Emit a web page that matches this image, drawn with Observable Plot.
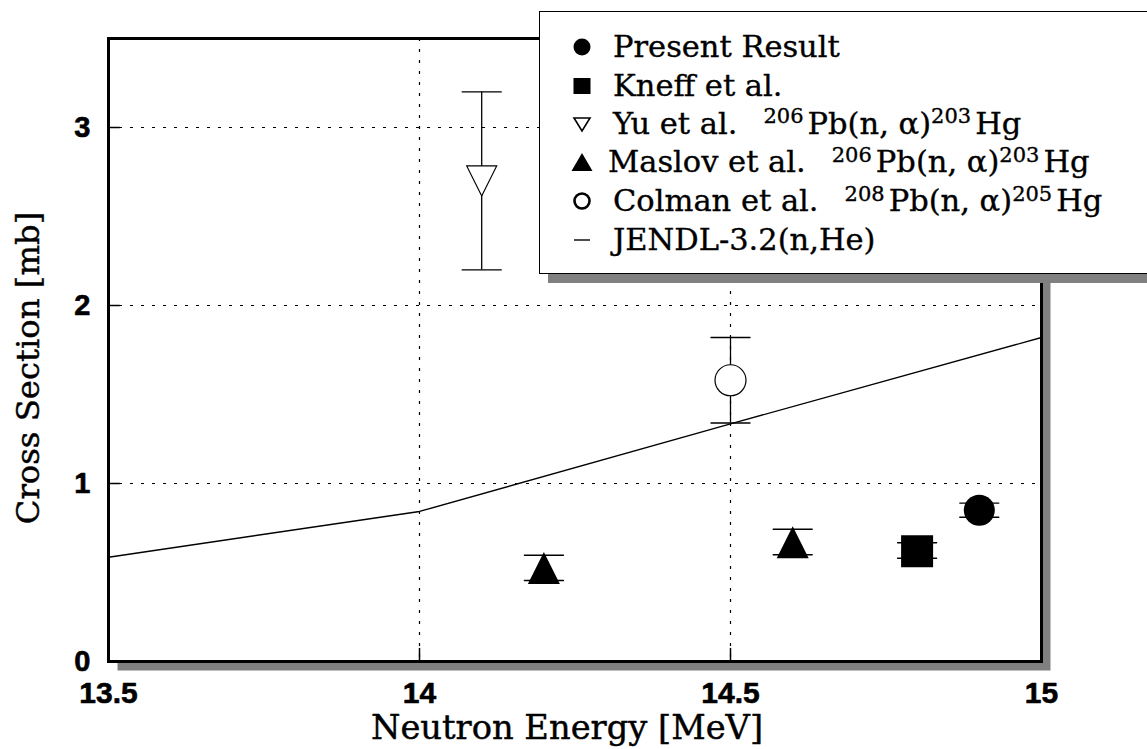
<!DOCTYPE html>
<html><head><meta charset="utf-8">
<script src="https://cdn.jsdelivr.net/npm/d3@7"></script>
<script src="https://cdn.jsdelivr.net/npm/@observablehq/plot@0.6"></script>
<style>
html,body{margin:0;padding:0;background:#fff;overflow:hidden;width:1147px;height:749px;}
#wrap{position:relative;width:1147px;height:749px;}
#legend{position:absolute;left:539px;top:11px;width:660px;height:261px;border:1.5px solid #000;background:#fff;box-shadow:9px 9px 0 #808080;font-family:"DejaVu Serif",serif;font-size:30.5px;color:#000;-webkit-text-stroke:0.35px #000;}
.row{position:absolute;left:0;height:38px;line-height:38px;white-space:nowrap;}
.row svg{position:absolute;left:32px;top:9px;}
.row .txt{position:absolute;left:73px;top:0;}
.rx{margin-left:26px;}
.rx sup{font-size:21px;vertical-align:0.5em;line-height:0;margin-right:4px;}
</style>
</head><body><div id="wrap"><div id="legend"></div></div>
<script>
// ---------- data ----------
const xTicks = [13.5, 14, 14.5, 15];
const yTicks = [0, 1, 2, 3];
const xGrid = [14, 14.5];
const yGrid = [1, 2, 3];

const jendlEnergy = [13.5, 14, 14.5, 15];
const jendlXS = [0.586, 0.843, 1.335, 1.82];

const presentResult = [{e: 14.9, xs: 0.85, lo: 0.81, hi: 0.89}];
const kneff = [{e: 14.8, xs: 0.62, lo: 0.58, hi: 0.667}];
const yu = [{e: 14.1, xs: 2.7, lo: 2.2, hi: 3.2}];
const maslov = [{e: 14.2, xs: 0.525, lo: 0.455, hi: 0.597}, {e: 14.6, xs: 0.67, lo: 0.60, hi: 0.743}];
const colman = [{e: 14.5, xs: 1.58, lo: 1.34, hi: 1.82}];

const legendLabels = ["Present Result", "Kneff et al.", "Yu et al.", "Maslov et al.", "Colman et al.", "JENDL-3.2(n,He)"];
const legendReactions = [null, null, ["206", "Pb(n, α)", "203", "Hg"], ["206", "Pb(n, α)", "203", "Hg"], ["208", "Pb(n, α)", "205", "Hg"], null];
const legendSymbols = ["circle", "square", "triDown", "triUp", "ring", "line"];

const xLabel = "Neutron Energy [MeV]";
const yLabel = "Cross Section [mb]";

// ---------- shapes ----------
const mk = fn => ({draw(c, size) { fn(c, Math.sqrt(size / Math.PI)); }});
const triUp = mk((c, r) => { c.moveTo(0, -r); c.lineTo(r, r); c.lineTo(-r, r); c.closePath(); });
const triDown = mk((c, r) => { c.moveTo(-r, -r); c.lineTo(r, -r); c.lineTo(0, r); c.closePath(); });
const square = mk((c, r) => { c.rect(-r, -r, 2 * r, 2 * r); });
const tickShape = {draw(c, l) { c.moveTo(0, 0); c.lineTo(0, -l); }};
const capShape = {draw(c, l) { c.moveTo(-l / 2, 0); c.lineTo(l / 2, 0); }};

const jendl = jendlEnergy.map((e, i) => ({e, xs: jendlXS[i]}));
const allPoints = [...presentResult, ...kneff, ...yu, ...maslov, ...colman];

const grid = {stroke: "black", strokeWidth: 1.2, strokeDasharray: "3,8"};
const serif = {fontFamily: "DejaVu Serif", stroke: "black", strokeWidth: 0.45, fill: "black"};
const tickFont = {fontFamily: "Liberation Sans", fontWeight: "bold", fill: "black", stroke: "black", strokeWidth: 0.6};

const chart = Plot.plot({
  width: 1147, height: 749,
  marginLeft: 108, marginRight: 106, marginTop: 38, marginBottom: 88,
  x: {domain: [13.5, 15], axis: null},
  y: {domain: [0, 3.5], axis: null},
  style: {background: "white"},
  marks: [
    Plot.frame({fill: "#808080", dx: 9, dy: 9}),
    Plot.frame({fill: "white"}),
    Plot.ruleX(xGrid, grid),
    Plot.ruleY(yGrid, grid),
    Plot.vector(xGrid, {x: d => d, frameAnchor: "bottom", length: 13, anchor: "start", shape: tickShape, stroke: "black", strokeWidth: 1.5}),
    Plot.vector(yGrid, {y: d => d, frameAnchor: "left", rotate: 90, length: 11, anchor: "start", shape: tickShape, stroke: "black", strokeWidth: 1.5}),
    Plot.line(jendl, {x: "e", y: "xs", stroke: "black", strokeWidth: 1.4}),
    Plot.ruleX(allPoints, {x: "e", y1: "lo", y2: "hi", stroke: "black", strokeWidth: 1.3}),
    Plot.vector(allPoints, {x: "e", y: "lo", length: 39, anchor: "start", shape: capShape, stroke: "black", strokeWidth: 1.4}),
    Plot.vector(allPoints, {x: "e", y: "hi", length: 39, anchor: "start", shape: capShape, stroke: "black", strokeWidth: 1.4}),
    Plot.dot(presentResult, {x: "e", y: "xs", r: 15.5, symbol: "circle", fill: "black", stroke: null}),
    Plot.dot(kneff, {x: "e", y: "xs", r: 16, symbol: square, fill: "black", stroke: null}),
    Plot.dot(yu, {x: "e", y: "xs", r: 15, symbol: triDown, fill: "white", stroke: "black", strokeWidth: 1.2}),
    Plot.dot(maslov, {x: "e", y: "xs", r: 16, symbol: triUp, fill: "black", stroke: null}),
    Plot.dot(colman, {x: "e", y: "xs", r: 15.5, symbol: "circle", fill: "white", stroke: "black", strokeWidth: 1.2}),
    Plot.text(xTicks, {x: d => d, text: d => String(d), frameAnchor: "bottom", dy: 41, lineAnchor: "bottom", textAnchor: "middle", fontSize: 30, ...tickFont}),
    Plot.text(yTicks, {y: d => d, text: d => String(d), frameAnchor: "left", dx: -18, textAnchor: "end", lineAnchor: "middle", fontSize: 29, ...tickFont}),
    Plot.text([xLabel], {text: d => d, frameAnchor: "bottom", dx: -8, dy: 77, lineAnchor: "bottom", textAnchor: "middle", fontSize: 33.7, ...serif}),
    Plot.text([yLabel], {text: d => d, frameAnchor: "left", rotate: -90, dx: -80, dy: 18, textAnchor: "middle", fontSize: 32.3, ...serif}),
    Plot.frame({stroke: "black", strokeWidth: 3})
  ]
});
document.getElementById("wrap").prepend(chart);

// ---------- legend ----------
function symSvg(kind) {
  let inner = "";
  if (kind === "circle") inner = `<circle cx="10" cy="10" r="8.5" fill="black"/>`;
  if (kind === "square") inner = `<rect x="1.5" y="2" width="17" height="16" fill="black"/>`;
  if (kind === "triDown") inner = `<path d="M2,4 L18,4 L10,17 Z" fill="white" stroke="black" stroke-width="1.6"/>`;
  if (kind === "triUp") inner = `<path d="M10,1 L20.5,19 L-0.5,19 Z" fill="black"/>`;
  if (kind === "ring") inner = `<circle cx="10" cy="10" r="7.5" fill="none" stroke="black" stroke-width="2.6"/>`;
  if (kind === "line") inner = `<line x1="2" y1="10" x2="18" y2="10" stroke="black" stroke-width="1.4"/>`;
  return `<svg width="20" height="20" viewBox="0 0 20 20" style="overflow:visible">${inner}</svg>`;
}
const legend = document.getElementById("legend");
const rowCenters = [34.5, 73.5, 111.5, 150, 189, 228];
const textShift = [0, 0, 0, -5, 0, 0];
legendLabels.forEach((lab, i) => {
  const row = document.createElement("div");
  row.className = "row";
  row.style.top = (rowCenters[i] - 19) + "px";
  let html = symSvg(legendSymbols[i]) + `<span class="txt" style="margin-left:${textShift[i]}px">${lab}`;
  const rx = legendReactions[i];
  if (rx) html += `<span class="rx"><sup>${rx[0]}</sup>${rx[1]}<sup>${rx[2]}</sup>${rx[3]}</span>`;
  html += `</span>`;
  row.innerHTML = html;
  legend.appendChild(row);
});
</script>
</body></html>
